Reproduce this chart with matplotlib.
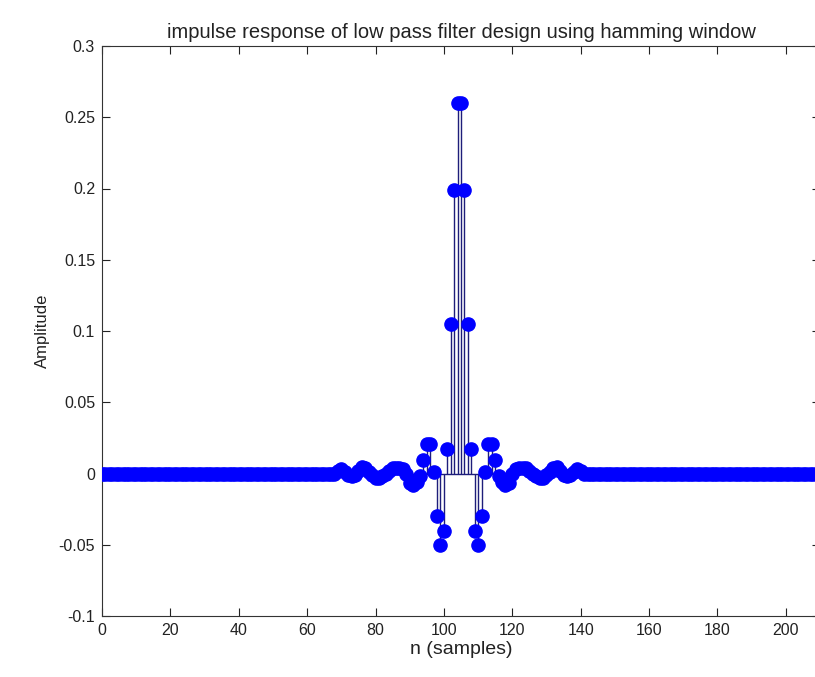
"""
Impulse response of a low pass FIR filter (hamming window), drawn as a stem plot.
"""
import matplotlib
matplotlib.use("Agg")
import matplotlib.pyplot as plt
import numpy as np
from matplotlib.ticker import FormatStrFormatter

plt.rcParams["font.family"] = ["Liberation Sans Narrow", "Liberation Sans", "DejaVu Sans"]
plt.rcParams["axes.unicode_minus"] = False

# sample index of the whole sequence
n = np.arange(0, 210)
# first nonzero sample and the samples either side of the (half sample) centre
first_tap = 69
centre_right = 105
# taps, going out from the centre (filter is symmetric)
half_taps = [
    0.260, 0.199, 0.105, 0.017, -0.040, -0.050, -0.030, 0.001, 0.021, 0.021,
    0.0095, -0.002, -0.006, -0.008, -0.007, 0.000, 0.003, 0.004, 0.004, 0.004,
    0.002, 0.000, -0.002, -0.003, -0.003, -0.001, 0.001, 0.004, 0.0045, 0.002,
    -0.001, -0.002, -0.001, 0.001, 0.003, 0.002,
]

x_ticks = list(range(0, 201, 20))
y_ticks = [-0.1, -0.05, 0, 0.05, 0.1, 0.15, 0.2, 0.25, 0.3]

h = np.zeros(len(n))
h[first_tap:centre_right] = half_taps[::-1]
h[centre_right:centre_right + len(half_taps)] = half_taps

fig = plt.figure(figsize=(8.15, 6.77), dpi=100)
ax = fig.add_axes([102 / 815, 61 / 677, 718 / 815, 570 / 677])

stem_color = "#1e1e7a"
markers, stems, base = ax.stem(n, h)
stems.set_color(stem_color)
stems.set_linewidth(1.0)
markers.set_color("#0000ff")
markers.set_markersize(9.5)
markers.set_markeredgecolor("#0000ff")
markers.set_zorder(3)
base.set_color(stem_color)
base.set_linewidth(1.0)

ax.set_xlim(0, 210)
ax.set_ylim(-0.1, 0.3)
ax.set_xticks(x_ticks)
ax.set_yticks(y_ticks)
ax.yaxis.set_major_formatter(FormatStrFormatter("%g"))
ax.tick_params(direction="in", top=True, right=True, length=6, width=0.8,
               labelsize=11.5, pad=5, colors="#222222")
for s in ax.spines.values():
    s.set_linewidth(0.8)
    s.set_color("#333333")

ax.set_title("impulse response of low pass filter design using hamming window",
             fontsize=14.5, pad=6, color="#222222")
ax.set_xlabel("n (samples)", fontsize=14, labelpad=2, color="#222222")
ax.set_ylabel("Amplitude", fontsize=12, labelpad=6, color="#222222")

fig.savefig("out.png", dpi=100)
